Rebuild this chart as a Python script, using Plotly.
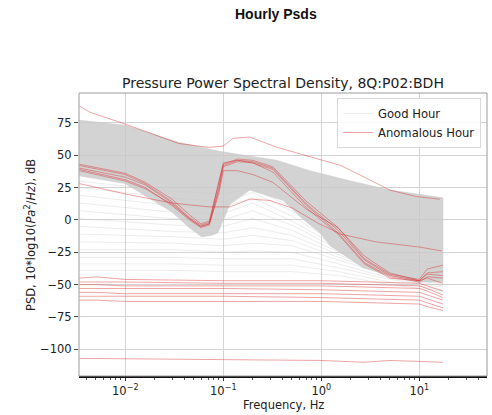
import plotly.graph_objects as go

# ---------------- data ----------------
# Dense "good hour" envelope
BAND_UPPER_F = [0.0034, 0.01, 0.035, 0.09, 0.35, 0.76, 2.0, 5.0, 17.4]
BAND_UPPER_V = [77, 73, 60, 53, 46, 38, 30, 23, 17]
BAND_LOWER_F = [0.0034, 0.01, 0.03, 0.045, 0.06, 0.075, 0.088, 0.117, 0.186, 0.41, 0.66, 0.97, 1.23, 2.67, 5.0, 10.0, 17.4]
BAND_LOWER_V = [34, 28, 6, -6, -13, -12, -10, 12, 23, 15, 0, -10, -20, -37, -43, -48, -48]

# Faint good-hour lines below the dense band
GOOD_F = [0.0034, 0.03, 0.1, 0.2, 0.5, 1.5, 5.0, 17.4]
GOOD_LINES = [
    [30, 22, 20, 24, 10, -14, -30, -33],
    [25, 17, 14, 21, 7, -17, -32, -37],
    [19, 11, 10, 17, 3, -19, -34, -39],
    [13, 6, 5, 13, -1, -21, -35, -41],
    [7, 1, 0, 7, -4, -23, -37, -43],
    [1, -4, -5, 1, -8, -25, -39, -45],
    [-5, -9, -10, -6, -12, -27, -41, -47],
    [-11, -13, -15, -12, -16, -29, -42, -49],
    [-17, -18, -20, -18, -20, -31, -43, -50],
    [-23, -23, -25, -24, -25, -34, -45, -51],
    [-29, -29, -30, -30, -30, -37, -46, -52],
    [-34, -34, -35, -35, -35, -40, -48, -54],
    [-39, -39, -40, -40, -40, -43, -50, -55],
]

# Anomalous hours: main cluster following the typical shape
MAIN_F = [0.0034, 0.01, 0.016, 0.03, 0.045, 0.059, 0.072, 0.09, 0.1, 0.14, 0.2, 0.32, 0.71, 1.48, 2.75, 5.0, 10.0, 12.0, 17.4]
MAIN_LINES = [
    [40, 33, 27, 13, 1, -5, -3, 25, 42, 46, 45, 40, 12, -8, -31, -43, -47, -42, -43],
    [42, 35, 28, 14, 2, -4, -2, 27, 43, 47, 46, 41, 14, -6, -30, -42, -46, -38, -35],
    [39, 31, 25, 11, 0, -6, -4, 23, 41, 45, 44, 39, 11, -10, -33, -44, -48, -44, -45],
    [43, 36, 29, 16, 4, -3, -1, 28, 44, 46, 44, 37, 9, -11, -34, -45, -47, -45, -49],
    [38, 30, 24, 12, 1, -5, -3, 20, 38, 38, 35, 29, 8, -6, -28, -41, -47, -41, -40],
]

# Anomalous hours: low, nearly flat cluster
LOW_F = [0.0034, 0.005, 0.01, 0.1, 1.0, 10.0, 12.0, 17.4]
LOW_LINES = [
    [-45, -44, -46, -47, -47, -49, -51, -55],
    [-48, -48, -48, -49, -49, -51, -53, -58],
    [-50, -50, -51, -51, -51, -53, -55, -60],
    [-53, -53, -53, -53, -54, -56, -58, -62],
    [-56, -56, -57, -57, -57, -59, -61, -65],
    [-59, -59, -59, -59, -60, -62, -64, -68],
    [-62, -62, -63, -63, -63, -65, -67, -70],
]

# Anomalous hours: single outliers
TOP_F = [0.0034, 0.0044, 0.01, 0.035, 0.071, 0.1, 0.126, 0.186, 0.355, 0.76, 1.58, 2.75, 5.0, 9.3, 16.2]
TOP_V = [88, 83, 74, 59, 56, 57, 63, 64, 56, 49, 42, 33, 23, 18, 16]
MID_F = [0.0034, 0.01, 0.03, 0.072, 0.117, 0.186, 0.3, 0.51, 0.95, 1.58, 3.6, 10.0, 17.0]
MID_V = [28, 20, 13, 10, 10, 16, 15, 9, -3, -11, -17, -21, -24]
BOTTOM_F = [0.0034, 0.1, 1.0, 2.7, 5.0, 17.4]
BOTTOM_V = [-107, -108, -108.6, -110, -108.6, -110]

X_TICKS = [0.01, 0.1, 1, 10]
X_TICK_TEXT = ["10<sup>\u22122</sup>", "10<sup>\u22121</sup>", "10<sup>0</sup>", "10<sup>1</sup>"]
X_MINOR = [m * d for d in (0.001, 0.01, 0.1, 1, 10) for m in range(2, 10)]
Y_TICKS = [-100, -75, -50, -25, 0, 25, 50, 75]

# ---------------- styles ----------------
FONT = "DejaVu Sans"
GOOD_COLOR = "rgba(185,185,185,0.27)"
RED = "rgba(214,39,40,0.42)"

fig = go.Figure()

# faint good-hour lines
for i, vals in enumerate(GOOD_LINES):
    fig.add_trace(go.Scatter(
        x=GOOD_F, y=vals, mode="lines",
        line=dict(color=GOOD_COLOR, width=1),
        name="Good Hour", showlegend=(i == 0), hoverinfo="skip"))

# dense envelope of good hours
fig.add_trace(go.Scatter(
    x=BAND_UPPER_F + BAND_LOWER_F[::-1],
    y=BAND_UPPER_V + BAND_LOWER_V[::-1],
    mode="lines", fill="toself",
    fillcolor="rgba(200,200,200,0.8)",
    line=dict(color="rgba(200,200,200,0.5)", width=1),
    showlegend=False, hoverinfo="skip"))

first = True
def add_red(x, y):
    global first
    fig.add_trace(go.Scatter(
        x=x, y=y, mode="lines",
        line=dict(color=RED, width=1),
        name="Anomalous Hour", showlegend=first, hoverinfo="skip"))
    first = False

for vals in MAIN_LINES:
    add_red(MAIN_F, vals)
for vals in LOW_LINES:
    add_red(LOW_F, vals)
add_red(TOP_F, TOP_V)
add_red(MID_F, MID_V)
add_red(BOTTOM_F, BOTTOM_V)

# ---------------- layout ----------------
L, R, T, B = 79, 5, 93, 39
W, H = 492, 415
pw, ph = W - L - R, H - T - B

def px(x):
    return (x - L) / pw

def py(y):
    return (H - B - y) / ph

fig.update_layout(
    width=W, height=H,
    margin=dict(l=L, r=R, t=T, b=B),
    paper_bgcolor="white", plot_bgcolor="white",
    font=dict(family=FONT, size=11.5, color="#222"),
    showlegend=True,
    legend=dict(
        x=px(481), y=py(98), xanchor="right", yanchor="top",
        bgcolor="rgba(255,255,255,0.85)", bordercolor="#d8d8d8", borderwidth=1,
        font=dict(family=FONT, size=11.6, color="#222"),
        tracegroupgap=0),
    xaxis=dict(
        type="log", range=[-2.472, 1.69],
        tickvals=X_TICKS, ticktext=X_TICK_TEXT,
        ticks="outside", ticklen=3.5, tickcolor="#333",
        minor=dict(tickvals=X_MINOR, ticks="outside", ticklen=2, tickcolor="#555", showgrid=False),
        showgrid=True, gridcolor="#d4d4d4", gridwidth=1,
        showline=True, linecolor="#111", linewidth=1.5, mirror=False,
        zeroline=False, tickfont=dict(family=FONT, size=11.5, color="#222")),
    yaxis=dict(
        range=[-120.6, 98],
        tickvals=Y_TICKS,
        ticks="outside", ticklen=4, tickcolor="#444",
        showgrid=True, gridcolor="#d4d4d4", gridwidth=1,
        showline=False, zeroline=False,
        tickfont=dict(family=FONT, size=11.5, color="#222")),
    shapes=[dict(type="rect", xref="paper", yref="paper", x0=0, x1=1, y0=0, y1=1,
                 line=dict(color="#9a9a9a", width=1), layer="above")],
    annotations=[
        dict(text="<b>Hourly Psds</b>", x=px(276), y=py(14), xref="paper", yref="paper",
             showarrow=False, xanchor="center", yanchor="middle",
             font=dict(family="Liberation Sans", size=14, color="#111")),
        dict(text="Pressure Power Spectral Density, 8Q:P02:BDH", x=px(283), y=py(83),
             xref="paper", yref="paper", showarrow=False, xanchor="center", yanchor="middle",
             font=dict(family=FONT, size=14, color="#222")),
        dict(text="Frequency, Hz", x=px(283), y=py(404.5), xref="paper", yref="paper",
             showarrow=False, xanchor="center", yanchor="middle",
             font=dict(family=FONT, size=11.5, color="#222")),
        dict(text="PSD, 10*log10(<i>Pa</i><sup>2</sup>/<i>Hz</i>), dB", x=px(30), y=py(235),
             xref="paper", yref="paper", showarrow=False, textangle=-90,
             xanchor="center", yanchor="middle",
             font=dict(family=FONT, size=11.5, color="#222")),
    ],
)

fig.write_html("out.html",
               config={"displayModeBar": False},
               post_script="document.body.style.margin='0';document.body.style.padding='0';")
